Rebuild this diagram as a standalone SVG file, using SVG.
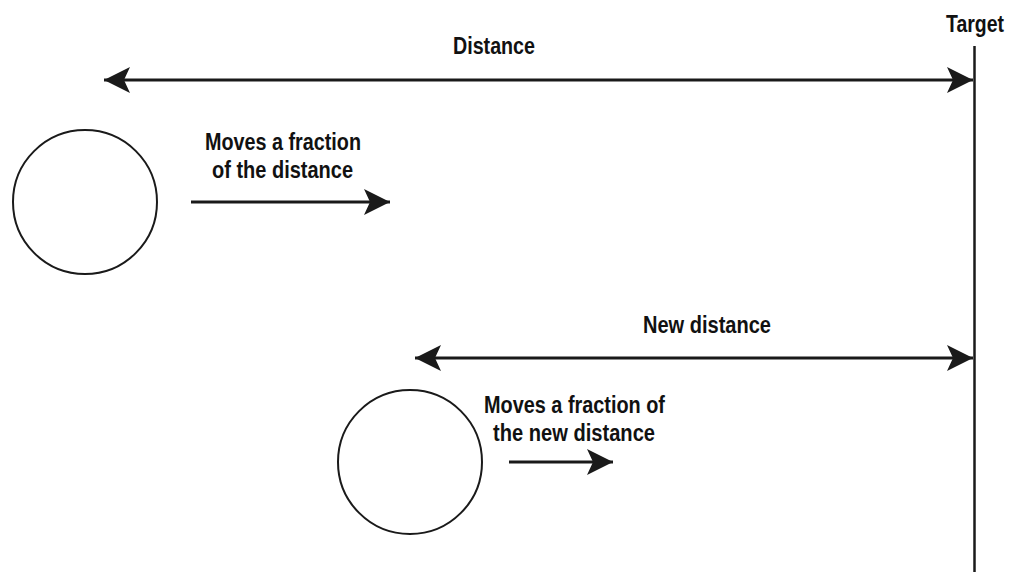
<svg xmlns="http://www.w3.org/2000/svg" width="1015" height="588" viewBox="0 0 1015 588">
<style>
.t{font-family:"Liberation Sans",Arial,sans-serif;font-weight:bold;font-size:23px;fill:#111;text-anchor:middle}
.ln{stroke:#1a1a1a;stroke-width:3;fill:none}
.c{stroke:#1a1a1a;stroke-width:2;fill:#fff}
</style>
<defs>
<marker id="ah" markerUnits="userSpaceOnUse" markerWidth="30" markerHeight="30" viewBox="-27 -15 30 30" refX="0" refY="0" orient="auto-start-reverse">
<path d="M0,0 L-26,-13 L-20,0 L-26,13 Z" fill="#1a1a1a"/>
</marker>
</defs>
<rect width="1015" height="588" fill="#fff"/>
<g id="target">
<line x1="974.5" y1="46" x2="974.5" y2="572" stroke="#1a1a1a" stroke-width="2.5"/>
<text class="t" x="975" y="32" textLength="58" lengthAdjust="spacingAndGlyphs">Target</text>
</g>
<g id="circle1"><circle class="c" cx="85" cy="202" r="72"/></g>
<g id="circle2"><circle class="c" cx="410" cy="462" r="72"/></g>
<g id="connectors">
<line class="ln" x1="104" y1="80" x2="973" y2="80" marker-start="url(#ah)" marker-end="url(#ah)"/>
<line class="ln" x1="191" y1="202" x2="390" y2="202" marker-end="url(#ah)"/>
<line class="ln" x1="415" y1="358" x2="973" y2="358" marker-start="url(#ah)" marker-end="url(#ah)"/>
<line class="ln" x1="509" y1="462" x2="613" y2="462" marker-end="url(#ah)"/>
</g>
<g id="labels">
<text class="t" x="494" y="54" textLength="82" lengthAdjust="spacingAndGlyphs">Distance</text>
<text class="t" x="283" y="150" textLength="156" lengthAdjust="spacingAndGlyphs">Moves a fraction</text>
<text class="t" x="282.5" y="178" textLength="141" lengthAdjust="spacingAndGlyphs">of the distance</text>
<text class="t" x="707" y="333" textLength="128" lengthAdjust="spacingAndGlyphs">New distance</text>
<text class="t" x="574.5" y="413" textLength="181" lengthAdjust="spacingAndGlyphs">Moves a fraction of</text>
<text class="t" x="574" y="441" textLength="162" lengthAdjust="spacingAndGlyphs">the new distance</text>
</g>
</svg>
